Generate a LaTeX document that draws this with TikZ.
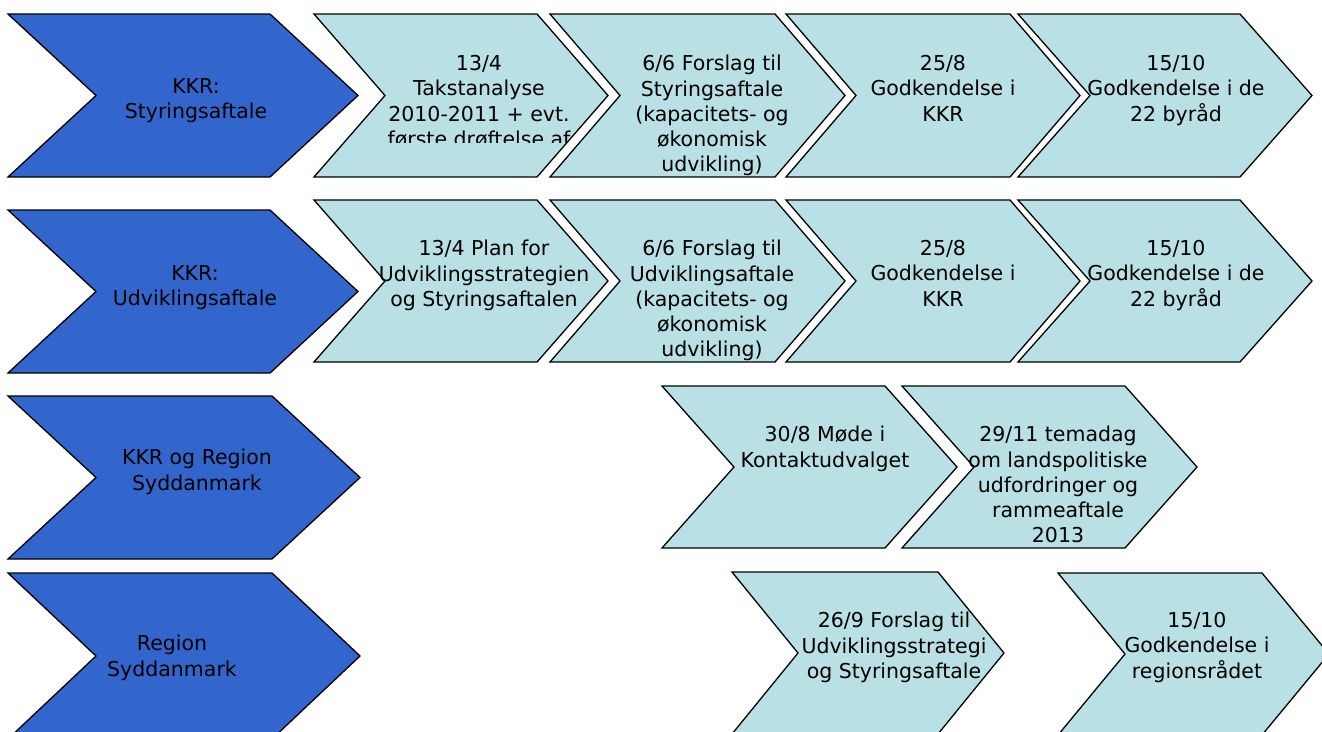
\documentclass[tikz,border=0pt]{standalone}
\usepackage{fontspec}
\setmainfont{DejaVu Sans}
\definecolor{chevblue}{RGB}{51,102,204}
\definecolor{chevlight}{RGB}{185,224,228}
% style, x, y, w, d, h
\newcommand\chevpath[6]{%
  \draw[#1] (#2,#3) -- ({#2+#4},#3) -- ({#2+#4+#5},{#3+#6/2}) -- ({#2+#4},{#3+#6}) -- (#2,{#3+#6}) -- ({#2+#5},{#3+#6/2}) -- cycle;}
\tikzset{
  bluechev/.style={fill=chevblue, draw=black, line width=1.3pt},
  lightchev/.style={fill=chevlight, draw=black, line width=1.3pt},
  lbl/.style={font=\fontsize{20.5}{25.3}\selectfont, align=center, inner sep=0pt, anchor=north, text=black},
}
\begin{document}
\begin{tikzpicture}[x=1pt,y=-1pt]
\clip (0,0) rectangle (1322,731);
\fill[white] (0,0) rectangle (1322,731);
% row 1
\chevpath{bluechev}{8}{14}{262}{88}{163}
\chevpath{lightchev}{314}{14}{223}{71}{163}
\chevpath{lightchev}{550}{14}{225}{70}{163}
\chevpath{lightchev}{786}{14}{224}{70}{163}
\chevpath{lightchev}{1018}{14}{222}{72}{163}
% row 2
\chevpath{bluechev}{8}{210}{262}{88}{163}
\chevpath{lightchev}{314}{200}{223}{71}{162}
\chevpath{lightchev}{550}{200}{225}{70}{162}
\chevpath{lightchev}{786}{200}{224}{70}{162}
\chevpath{lightchev}{1018}{200}{222}{72}{162}
% row 3
\chevpath{bluechev}{8}{396}{264}{88}{163}
\chevpath{lightchev}{662}{386}{223}{72}{162}
\chevpath{lightchev}{902}{386}{223}{72}{162}
% row 4
\chevpath{bluechev}{8}{573}{264}{88}{166}
\chevpath{lightchev}{732}{572}{206}{66}{162}
\chevpath{lightchev}{1058}{573}{204}{67}{162}
% texts row 1
\node[lbl] (a0) at (196,78) {KKR:\\Styringsaftale};
\begin{scope}
\clip (300,0) rectangle (572,142.5);
\node[lbl] (a1) at (479,55) {13/4\\Takstanalyse\\2010-2011 + evt.\\første drøftelse af};
\end{scope}
\node[lbl] (a2) at (712,55) {6/6 Forslag til\\Styringsaftale\\(kapacitets- og\\økonomisk\\udvikling)};
\node[lbl] (a3) at (943,55) {25/8\\Godkendelse i\\KKR};
\node[lbl] (a4) at (1176,55) {15/10\\Godkendelse i de\\22 byråd};
% texts row 2
\node[lbl] (b0) at (195,265) {KKR:\\Udviklingsaftale};
\node[lbl] (b1) at (484,240) {13/4 Plan for\\Udviklingsstrategien\\og Styringsaftalen};
\node[lbl] (b2) at (712,240) {6/6 Forslag til\\Udviklingsaftale\\(kapacitets- og\\økonomisk\\udvikling)};
\node[lbl] (b3) at (943,240) {25/8\\Godkendelse i\\KKR};
\node[lbl] (b4) at (1176,240) {15/10\\Godkendelse i de\\22 byråd};
% texts row 3
\node[lbl] (c0) at (197,449) {KKR og Region\\Syddanmark};
\node[lbl] (c1) at (825,426) {30/8 Møde i\\Kontaktudvalget};
\node[lbl] (c2) at (1058,426) {29/11 temadag\\om landspolitiske\\udfordringer og\\rammeaftale\\2013};
% texts row 4
\node[lbl] (d0) at (172,635) {Region\\Syddanmark};
\node[lbl] (d1) at (894,612) {26/9 Forslag til\\Udviklingsstrategi\\og Styringsaftale};
\node[lbl] (d2) at (1197,612) {15/10\\Godkendelse i\\regionsrådet};
\end{tikzpicture}
\end{document}
